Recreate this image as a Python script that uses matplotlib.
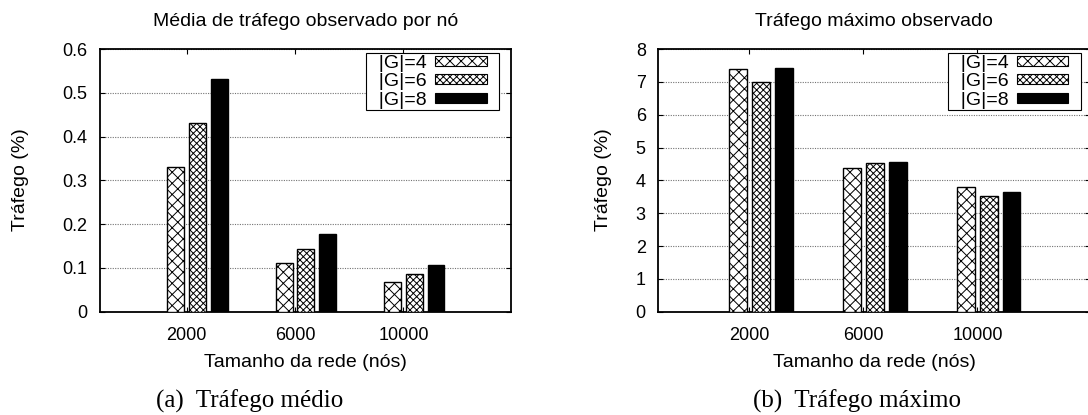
import matplotlib
matplotlib.use("Agg")
import matplotlib.pyplot as plt
import matplotlib.patches as mpatches
from matplotlib.legend_handler import HandlerPatch
import numpy as np

plt.rcParams['font.family'] = ['Liberation Sans', 'DejaVu Sans']
plt.rcParams['hatch.linewidth'] = 0.7

# ---- data ----
categories = ["2000", "6000", "10000"]
series_labels = ["|G|=4", "|G|=6", "|G|=8"]
avg_g4 = [0.330, 0.111, 0.067]
avg_g6 = [0.432, 0.144, 0.086]
avg_g8 = [0.531, 0.177, 0.107]
max_g4 = [7.38, 4.38, 3.79]
max_g6 = [6.99, 4.54, 3.52]
max_g8 = [7.42, 4.55, 3.65]
avg_yticks = [0, 0.1, 0.2, 0.3, 0.4, 0.5, 0.6]
avg_yticklabels = ["0", "0.1", "0.2", "0.3", "0.4", "0.5", "0.6"]
max_yticks = [0, 1, 2, 3, 4, 5, 6, 7, 8]
max_yticklabels = ["0", "1", "2", "3", "4", "5", "6", "7", "8"]
title_avg = "Média de tráfego observado por nó"
title_max = "Tráfego máximo observado"
xlabel = "Tamanho da rede (nós)"
ylabel = "Tráfego (%)"
caption_a = "(a)  Tráfego médio"
caption_b = "(b)  Tráfego máximo"

W, H = 1088, 415
fig = plt.figure(figsize=(W / 100, H / 100), dpi=100)

def px_rect(l, t, r, b):
    return [l / W, 1 - b / H, (r - l) / W, (b - t) / H]

ax1 = fig.add_axes(px_rect(100, 49, 510.7, 311.7))
ax2 = fig.add_axes(px_rect(658.3, 49, 1090.3, 311.7))

hatches = ["xxx", "xxxxx", None]
faces = ["white", "white", "black"]
offsets = [-0.1, 0.1, 0.3]
bw = 0.155
x = np.arange(len(categories))

def make_patch(legend, orig_handle, xdescent, ydescent, width, height, fontsize):
    return mpatches.Rectangle((-xdescent, -ydescent), width - 8.0, height)

def draw(ax, data, yticks, yticklabels, ymax, title, lx, ly, tx):
    ax.set_axisbelow(True)
    for i, vals in enumerate(data):
        ax.bar(x + offsets[i], vals, width=bw, color=faces[i], edgecolor="black",
               hatch=hatches[i], linewidth=1.0, zorder=3, label=series_labels[i])
    ax.set_xlim(-0.8, 2.99)
    ax.set_ylim(0, ymax)
    ax.set_xticks(x)
    ax.set_xticklabels(categories, fontsize=13)
    ax.set_yticks(yticks)
    ax.set_yticklabels(yticklabels, fontsize=13)
    ax.tick_params(axis="both", direction="in", length=3.5, width=0.8, top=True, right=True,
                   pad=9)
    ax.tick_params(axis="x", pad=11)
    ax.grid(axis="y", color="0.45", linestyle=(0, (1, 1.2)), linewidth=0.8)
    for s in ax.spines.values():
        s.set_linewidth(1.3)
        s.set_color("black")
    proxies = [mpatches.Rectangle((0, 0), 1, 1, facecolor=faces[i], edgecolor="black",
                                  hatch=hatches[i], linewidth=0.8) for i in range(3)]
    leg = ax.legend(proxies, ["  " + s for s in series_labels], loc="upper right",
                    bbox_to_anchor=lx, borderaxespad=0, fontsize=14,
                    markerfirst=False, frameon=True, fancybox=False, framealpha=1,
                    edgecolor="black", borderpad=0.08, labelspacing=0.08,
                    handlelength=3.2, handleheight=0.42, handletextpad=0.45,
                    handler_map={mpatches.Rectangle: HandlerPatch(patch_func=make_patch)})
    leg.get_frame().set_linewidth(0.8)
    leg.set_zorder(5)
    fig.text(tx / W, 1 - 21 / H, title, ha="center", va="center", fontsize=14)
    fig.text(tx / W, 1 - 362 / H, xlabel, ha="center", va="center", fontsize=14)
    fig.text(ly / W, 1 - 180 / H, ylabel, ha="center", va="center", rotation=90, fontsize=14)

draw(ax1, [avg_g4, avg_g6, avg_g8], avg_yticks, avg_yticklabels, 0.6, title_avg,
     (0.972, 0.984), 21, 305.5)
draw(ax2, [max_g4, max_g6, max_g8], max_yticks, max_yticklabels, 8, title_max,
     (0.978, 0.984), 603, 874)

fig.text(250 / W, 1 - 401 / H, caption_a, ha="center", va="center", fontsize=18,
         family=["Liberation Serif", "DejaVu Serif"])
fig.text(857 / W, 1 - 401 / H, caption_b, ha="center", va="center", fontsize=18,
         family=["Liberation Serif", "DejaVu Serif"])

fig.savefig("out.png", dpi=100)
